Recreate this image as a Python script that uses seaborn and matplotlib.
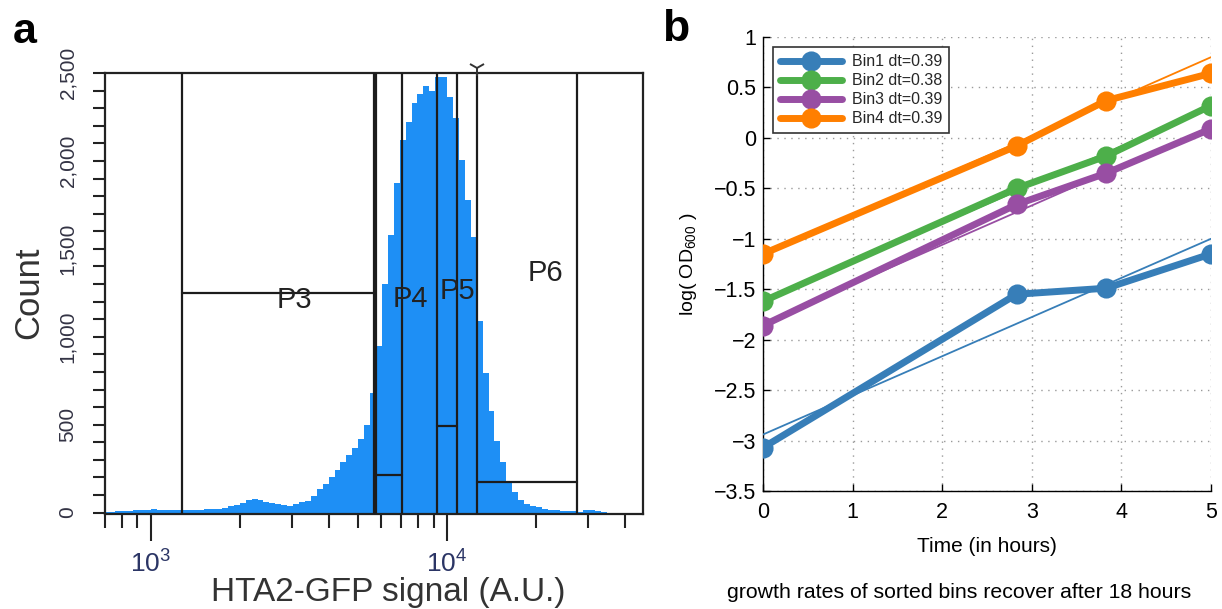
import numpy as np
import pandas as pd
import matplotlib
matplotlib.use("Agg")
import matplotlib.pyplot as plt
import matplotlib.ticker as mticker
import seaborn as sns

# ---------------- panel a : HTA2-GFP flow histogram ----------------
channel_first_log = 2.85      # log10 of first channel centre
channel_step_log = 0.02       # channel width (decades)
gfp_counts = [
    5, 5, 8, 8, 10, 14, 12, 15,
    18, 15, 15, 14, 14, 15, 15, 15, 16, 18,
    18, 20, 25, 40, 45, 55, 70, 75, 72, 62,
    55, 50, 42, 40, 48, 60, 68, 95, 135, 165,
    205, 240, 285, 325, 365, 420, 500, 680, 950, 1300,
    1580, 1875, 2120, 2220, 2330, 2380, 2426, 2400, 2477, 2477,
    2364, 2245, 2007, 1780, 1565, 1088, 794, 578, 408, 289,
    181, 119, 74, 51, 40, 30, 22, 15, 12, 10,
    8, 8, 5, 12, 12, 10, 3,
]
gate_names = ["P3", "P4", "P5", "P6"]
gate_lo = [1272, 5740, 9250, 12620]
gate_hi = [5646, 7047, 10815, 27480]
gate_level = [1250, 215, 490, 172]
gate_label_x = [3062, 7500, 10820, 21420]
gate_label_y = [1207, 1213, 1259, 1361]
count_ticks = [0, 500, 1000, 1500, 2000, 2500]
signal_ticks = [1e3, 1e4]
signal_tick_labels = [r"$10^{3}$", r"$10^{4}$"]

# ---------------- panel b : growth curves ----------------
time_h = [0, 2.83, 3.83, 5]
bin_names = ["Bin1 dt=0.39", "Bin2 dt=0.38", "Bin3 dt=0.39", "Bin4 dt=0.39"]
bin1 = [-3.07, -1.55, -1.49, -1.15]
bin2 = [-1.62, -0.50, -0.18, 0.32]
bin3 = [-1.86, -0.66, -0.35, 0.09]
bin4 = [-1.15, -0.08, 0.37, 0.64]
fit_time = [0, 5]
fit1 = [-2.94, -1.00]
fit2 = [-1.61, 0.30]
fit3 = [-1.84, 0.11]
fit4 = [-1.16, 0.80]
time_ticks = [0, 1, 2, 3, 4, 5]
od_ticks = [-3.5, -3, -2.5, -2, -1.5, -1, -0.5, 0, 0.5, 1]
od_tick_labels = ["\u22123.5", "\u22123", "\u22122.5", "\u22122", "\u22121.5",
                  "\u22121", "\u22120.5", "0", "0.5", "1"]

sns.set_style("white")
plt.rcParams["font.family"] = ["Liberation Sans", "DejaVu Sans"]
plt.rcParams["mathtext.fontset"] = "custom"
plt.rcParams["mathtext.rm"] = "Liberation Sans"
plt.rcParams["mathtext.it"] = "Liberation Sans"

W, H = 1222, 609
fig = plt.figure(figsize=(W / 100, H / 100), dpi=100)
fig.patch.set_facecolor("white")

# ======================= panel a =======================
axa = fig.add_axes([105 / W, 1 - 514 / H, (643 - 105) / W, (514 - 73) / H])
n = len(gfp_counts)
centres = 10 ** (channel_first_log + channel_step_log * np.arange(n))
df_a = pd.DataFrame({"signal": centres, "count": gfp_counts})
lo_edge = channel_first_log - channel_step_log / 2
hi_edge = channel_first_log + channel_step_log * (n - 0.5)
sns.histplot(data=df_a, x="signal", weights="count", log_scale=True,
             bins=n, binrange=(lo_edge, hi_edge),
             element="step", fill=True, color="#1e8ff5", alpha=1,
             linewidth=0, edgecolor="none", ax=axa, zorder=1)
axa.set_xlim(699.3, 45900)
axa.set_ylim(-8, 2500)

gate_col = "#1c1c1c"
for name, lo, hi, lev, lx, ly in zip(gate_names, gate_lo, gate_hi, gate_level,
                                     gate_label_x, gate_label_y):
    axa.plot([lo, lo], [0, 2500], color=gate_col, lw=1.6, zorder=3)
    axa.plot([hi, hi], [0, 2500], color=gate_col, lw=1.6, zorder=3)
    axa.plot([lo, hi], [lev, lev], color=gate_col, lw=1.6, zorder=3)
    axa.text(lx, ly, name, fontsize=21, color="#222222", ha="center",
             va="center", zorder=4)
axa.plot([gate_lo[3]], [2530], marker="1", ms=12, mew=1.4, color="#333333",
         clip_on=False, zorder=5)

axa.xaxis.set_major_locator(mticker.FixedLocator(signal_ticks))
axa.xaxis.set_major_formatter(mticker.FixedFormatter(signal_tick_labels))
axa.xaxis.set_minor_locator(mticker.LogLocator(base=10, subs=np.arange(2, 10)))
axa.xaxis.set_minor_formatter(mticker.NullFormatter())
axa.yaxis.set_major_locator(mticker.FixedLocator(count_ticks))
axa.yaxis.set_major_formatter(mticker.FuncFormatter(lambda v, p: f"{int(v):,}"))
axa.yaxis.set_minor_locator(mticker.MultipleLocator(100))

axa.tick_params(axis="x", which="major", direction="out", length=19.5,
                width=1.5, pad=7, labelsize=19, labelcolor="#2b3565",
                color="#222222", bottom=True)
axa.tick_params(axis="x", which="minor", direction="out", length=10,
                width=1.5, color="#222222", bottom=True)
axa.tick_params(axis="y", which="both", direction="out", length=9,
                width=1.5, color="#222222", left=True)
axa.tick_params(axis="y", which="major", pad=11, labelsize=15,
                labelcolor="#333344")
plt.setp(axa.get_yticklabels(), rotation=90, va="center")
for sp in axa.spines.values():
    sp.set_visible(True)
    sp.set_color("#222222")
    sp.set_linewidth(1.6)
axa.set_xlabel("")
axa.set_ylabel("")

fig.text(29 / W, 1 - 293 / H, "Count", rotation=90, ha="center", va="center",
         fontsize=25, color="#333333")
fig.text(388 / W, 1 - 601 / H, "HTA2-GFP signal (A.U.)", ha="center",
         va="baseline", fontsize=24, color="#333333")
fig.text(25 / W, 1 - 43 / H, "a", ha="center", va="baseline", fontsize=31,
         fontweight="bold", color="black")

# ======================= panel b =======================
axb = fig.add_axes([763 / W, 1 - 491 / H, 448 / W, 454 / H])
colors = ["#377eb8", "#4daf4a", "#984ea3", "#ff7f00"]
series = [bin1, bin2, bin3, bin4]
fits = [fit1, fit2, fit3, fit4]
for name, vals, c in zip(bin_names, series, colors):
    sns.lineplot(x=time_h, y=vals, ax=axb, color=c, lw=5, marker="o",
                 markersize=13, markeredgecolor=c, markerfacecolor=c,
                 markeredgewidth=1.5, label=name, zorder=3)
for fit, c in zip(fits, colors):
    sns.lineplot(x=fit_time, y=fit, ax=axb, color=c, lw=1.3, legend=False,
                 zorder=4)

axb.set_xlim(0, 5)
axb.set_ylim(-3.5, 1)
axb.set_xticks(time_ticks)
axb.set_xticklabels([str(t) for t in time_ticks])
axb.set_yticks(od_ticks)
axb.set_yticklabels(od_tick_labels)
axb.grid(True, linestyle=(0, (1, 4)), color="#9a9a9a", lw=1)
axb.tick_params(axis="both", direction="in", length=5, width=1,
                labelsize=15.5, color="black", labelcolor="black",
                left=True, bottom=True)
axb.tick_params(axis="x", pad=8)
axb.tick_params(axis="y", pad=5)
for side in ["top", "right"]:
    axb.spines[side].set_visible(False)
for side in ["left", "bottom"]:
    axb.spines[side].set_color("black")
    axb.spines[side].set_linewidth(1.0)
axb.set_xlabel("")
axb.set_ylabel("")

leg = axb.legend(loc="upper left", bbox_to_anchor=(0.022, 0.978),
                 borderaxespad=0, fontsize=11.5, handlelength=3.9,
                 labelspacing=0.25, borderpad=0.45, handletextpad=0.6,
                 frameon=True, fancybox=False, edgecolor="#333333",
                 framealpha=1)
leg.get_frame().set_linewidth(1.2)

fig.text(987 / W, 1 - 552 / H, "Time (in hours)", ha="center", va="baseline",
         fontsize=15, color="black")
fig.text(959 / W, 1 - 598 / H,
         "growth rates of sorted bins recover after 18 hours",
         ha="center", va="baseline", fontsize=15.3, color="black")
fig.text(688 / W, 1 - 264 / H, r"log( OD$_{600}$ )", rotation=90,
         ha="center", va="center", fontsize=14, color="black")
fig.text(676 / W, 1 - 41 / H, "b", ha="center", va="baseline", fontsize=32,
         fontweight="bold", color="black")

fig.savefig("out.png", dpi=100, facecolor="white")
